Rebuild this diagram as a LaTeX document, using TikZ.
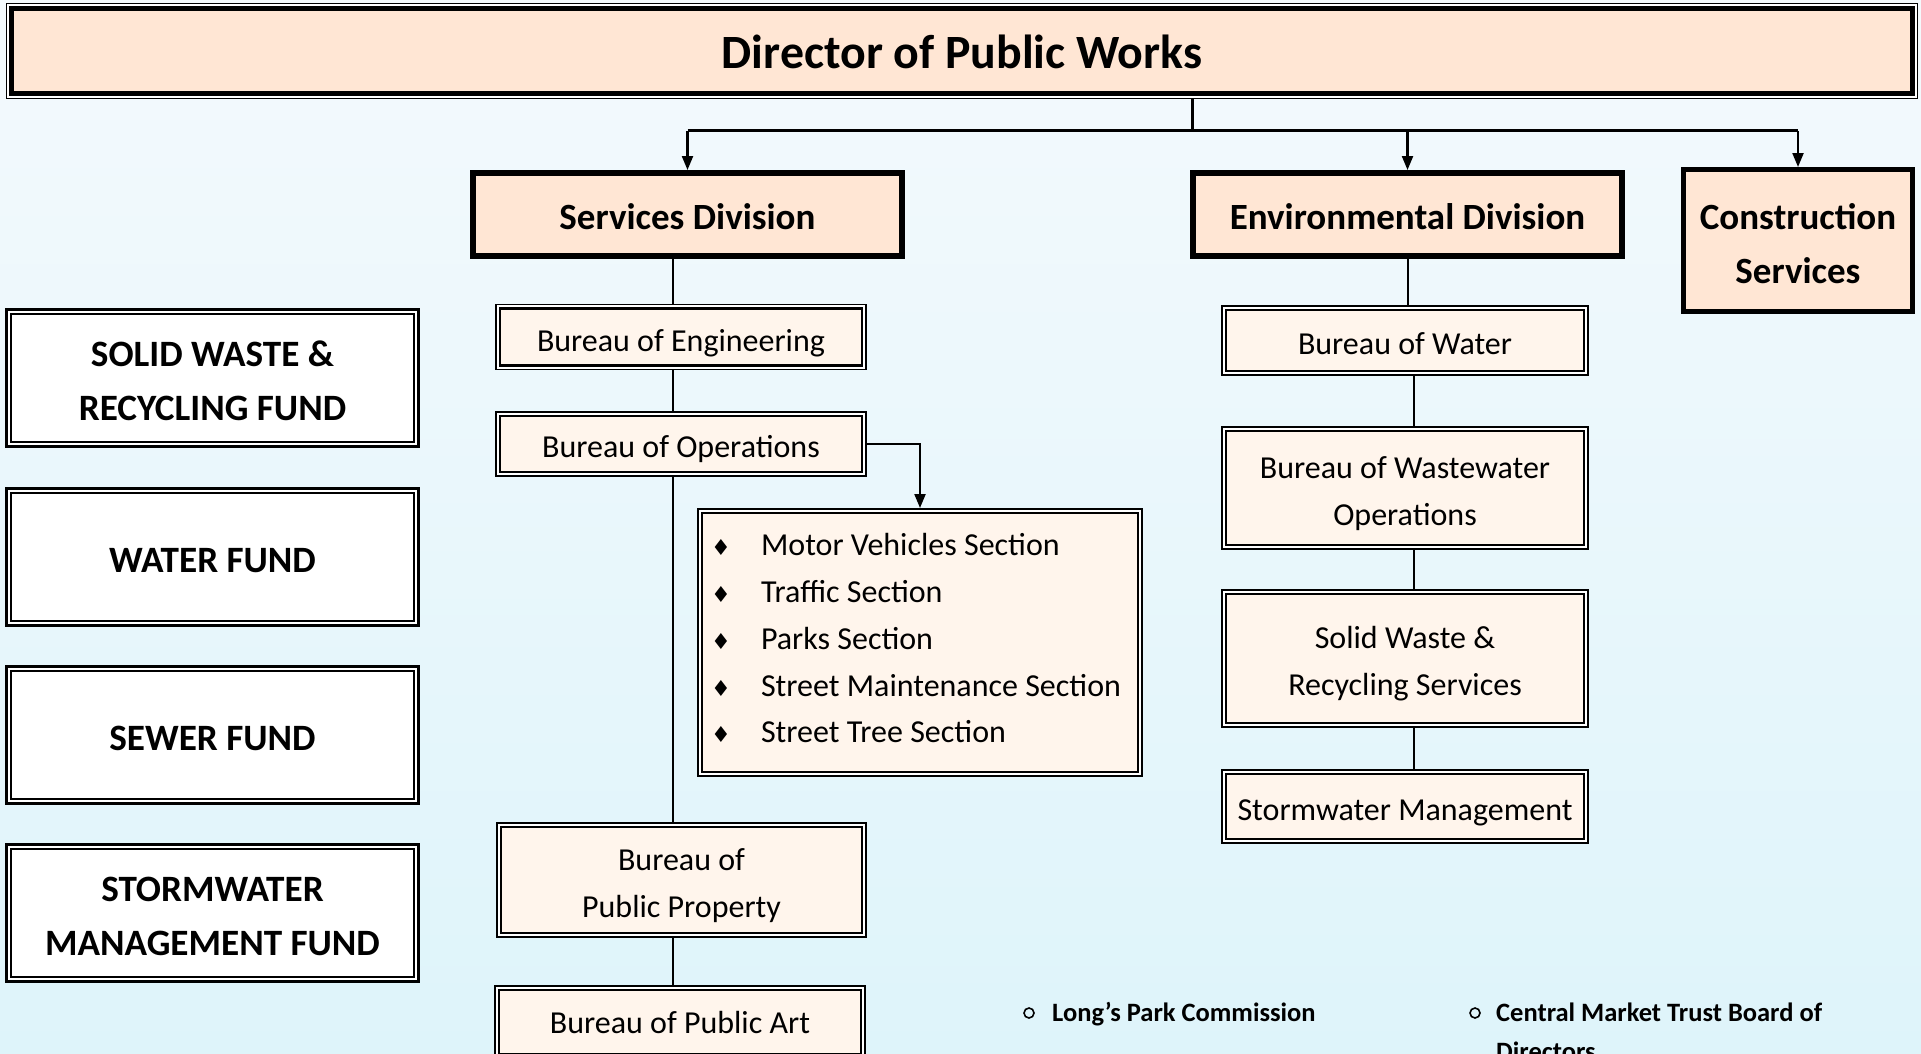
\documentclass[tikz,border=0pt]{standalone}
\usepackage{fontspec}
\setmainfont{Carlito}
\newfontfamily\symfnt{DejaVu Sans}
\usetikzlibrary{arrows.meta}

\definecolor{bgtop}{RGB}{244,250,253}
\definecolor{bgbot}{RGB}{222,244,250}
\definecolor{peach}{RGB}{255,230,212}
\definecolor{lpeach}{RGB}{255,245,236}

% optional argument: extra space on top (moves the text down by half of it)
\newcommand{\mlines}[2][9pt]{\begin{tabular}{@{}c@{}}\noalign{\vskip #1}#2\end{tabular}}
\newcommand{\ftitle}{\fontsize{47.8}{56}\selectfont\bfseries}
\newcommand{\fdiv}{\fontsize{37}{54}\selectfont\bfseries}
\newcommand{\fbur}{\fontsize{32}{46.7}\selectfont}
\newcommand{\ffund}{\fontsize{37.2}{54}\selectfont\bfseries}
\newcommand{\fnote}{\fontsize{26.5}{38.5}\selectfont\bfseries}
\newcommand{\dmd}{\makebox[24pt][c]{\symfnt\fontsize{22}{24}\selectfont ♦}}

\tikzset{
  ln/.style={line width=2pt},
  stem/.style={line width=3pt},
  arr/.style={line width=2.2pt, -{Triangle[width=11pt,length=14pt]}},
  titlebox/.style={fill=peach, draw, line width=4.5pt,
    preaction={draw=black, line width=10.9pt},
    preaction={draw=white, line width=8.5pt},
    inner sep=0pt, outer sep=5.45pt, font=\ftitle},
  divbox/.style={fill=peach, draw, line width=6pt, inner sep=0pt, outer sep=3pt, font=\fdiv},
  burbox/.style={fill=lpeach, draw, line width=2.5pt,
    preaction={draw=black, line width=9.9pt},
    preaction={draw=white, line width=6.5pt},
    inner sep=0pt, outer sep=4.95pt, font=\fbur},
  fundbox/.style={fill=white, draw, line width=1.7pt,
    preaction={draw=black, line width=12.3pt},
    preaction={draw=white, line width=5.7pt},
    inner sep=0pt, outer sep=6.15pt, font=\ffund,
    minimum width=402.7pt, minimum height=127.7pt},
  notebul/.style={circle, draw, line width=1.6pt, minimum size=10pt, inner sep=0pt},
  notetxt/.style={anchor=base west, inner sep=0pt, font=\fnote},
}

\begin{document}
\begin{tikzpicture}[x=1pt,y=-1pt]
\useasboundingbox (0,0) rectangle (1921,1054);
\clip (0,0) rectangle (1921,1054);
\shade[top color=bgtop, bottom color=bgbot] (0,0) rectangle (1921,1054);

% title
\node[titlebox, minimum width=1901.1pt, minimum height=85.1pt] (title) at (962,51) {\mlines[12pt]{Director of Public Works}};

% divisions
\node[divbox, minimum width=429pt, minimum height=83pt] (svc) at (687.5,214.5) {\mlines[8pt]{Services Division}};
\node[divbox, minimum width=429pt, minimum height=83pt] (env) at (1407.5,214.5) {\mlines[8pt]{Environmental Division}};
\node[divbox, line width=5pt, outer sep=2.5pt, minimum width=229pt, minimum height=142pt] (constr) at (1798,240.5) {\mlines[10pt]{Construction\\Services}};

% services column
\node[burbox, minimum width=362.1pt, minimum height=54.1pt] (eng) at (681,337) {\mlines[10pt]{Bureau of Engineering}};
\node[burbox, minimum width=362.1pt, minimum height=54.1pt] (ops) at (681,444) {\mlines{Bureau of Operations}};
\node[burbox, minimum width=436.1pt, minimum height=259.1pt] (sections) at (920,642.5) {%
  \begin{tabular}{@{}l@{\hspace{28pt}}l@{\hspace{10pt}}}
  \dmd & Motor Vehicles Section\\
  \dmd & Traffic Section\\
  \dmd & Parks Section\\
  \dmd & Street Maintenance Section\\
  \dmd & Street Tree Section\\[5pt]
  \end{tabular}};
\node[burbox, minimum width=361.1pt, minimum height=106.1pt] (pprop) at (681.5,880) {\mlines{Bureau of\\Public Property}};
\node[burbox, minimum width=362.1pt, minimum height=64.1pt] (art) at (680,1022) {\mlines[4pt]{Bureau of Public Art}};

% environmental column
\node[burbox, minimum width=358.1pt, minimum height=61.1pt] (water) at (1405,340.5) {\mlines{Bureau of Water}};
\node[burbox, minimum width=358.1pt, minimum height=114.1pt] (wastew) at (1405,488) {\mlines{Bureau of Wastewater\\Operations}};
\node[burbox, minimum width=358.1pt, minimum height=129.1pt] (solid) at (1405,658.5) {\mlines{Solid Waste \&\\Recycling Services}};
\node[burbox, minimum width=358.1pt, minimum height=65.1pt] (storm) at (1405,806.5) {\mlines{Stormwater Management}};

% funds
\node[fundbox] (f1) at (212.5,378) {\mlines{SOLID WASTE \&\\RECYCLING FUND}};
\node[fundbox] (f2) at (212.5,557) {\mlines{WATER FUND}};
\node[fundbox] (f3) at (212.5,735) {\mlines{SEWER FUND}};
\node[fundbox] (f4) at (212.5,913) {\mlines[10pt]{STORMWATER\\MANAGEMENT FUND}};

% notes
\node[notebul] (b1) at (1029,1013) {};
\node[notetxt] (n1) at (1052,1021.5) {Long’s Park Commission};
\node[notebul] (b2) at (1475,1013) {};
\node[notetxt] (n2) at (1496,1021.5) {\begin{tabular}[t]{@{}l@{}}Central Market Trust Board of\\Directors\end{tabular}};

% connectors
\coordinate (hub) at (1192,131);
\coordinate (colS) at (673,0);
\coordinate (colE) at (1414,0);
\draw[stem] (title.south -| hub) -- (hub);
\draw[stem] (hub -| svc.north) -- (hub -| constr.north);
\draw[arr] (hub -| svc.north) -- (svc.north);
\draw[arr] (hub -| env.north) -- (env.north);
\draw[arr] (hub -| constr.north) -- (constr.north);

\draw[ln] (svc.south -| colS) -- (eng.north -| colS);
\draw[ln] (eng.south -| colS) -- (ops.north -| colS);
\draw[ln] (ops.south -| colS) -- (pprop.north -| colS);
\draw[ln] (pprop.south -| colS) -- (art.north -| colS);
\draw[arr] (ops.east) -| (sections.north);

\draw[ln] (env.south) -- (env.south |- water.north);
\draw[ln] (water.south -| colE) -- (wastew.north -| colE);
\draw[ln] (wastew.south -| colE) -- (solid.north -| colE);
\draw[ln] (solid.south -| colE) -- (storm.north -| colE);
\end{tikzpicture}
\end{document}
